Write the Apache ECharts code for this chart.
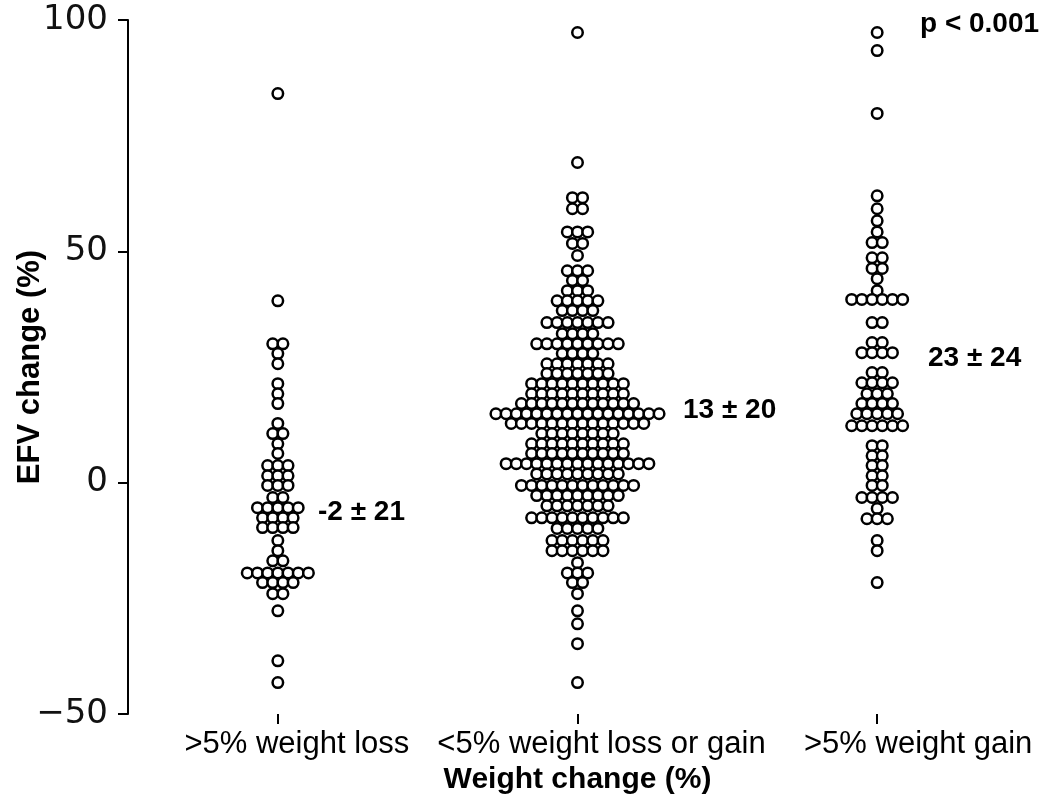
<!DOCTYPE html>
<html>
<head>
<meta charset="utf-8">
<script src="https://cdn.jsdelivr.net/npm/echarts@6/dist/echarts.min.js"></script>
<style>html,body{margin:0;padding:0;background:#fff}#c{width:1050px;height:803px}</style>
</head>
<body>
<div id="c"></div>
<script>
// Categories and tick labels
const categories = ['>5% weight loss', '<5% weight loss or gain', '>5% weight gain'];
const yTicks = [-50, 0, 50, 100];

// Each row of the dot plot: [EFV change (%), number of patients in that bin]
const lossRows = [
  [84.1,1],[39.3,1],[30.0,2],[27.9,1],[25.7,1],[21.4,1],[19.2,1],[17.1,1],
  [12.8,1],[10.6,2],[8.4,1],[6.3,1],[3.7,3],[1.5,3],[-0.6,3],[-3.2,2],
  [-5.4,5],[-7.6,4],[-9.7,4],[-12.5,1],[-14.7,1],[-16.9,2],[-19.5,7],
  [-21.6,4],[-24.0,2],[-27.7,1],[-38.5,1],[-43.2,1]
];
const stableRows = [
  [97.3,1],[69.2,1],[61.6,2],[59.2,2],[54.2,3],[51.7,2],[49.1,1],[45.8,3],
  [43.7,2],[41.5,3],[39.3,5],[37.2,4],[34.6,7],[32.2,4],[30.0,9],[27.9,4],
  [25.7,7],[23.6,7],[21.4,10],[19.2,10],[17.1,12],[14.9,17],[12.8,14],
  [10.6,8],[8.4,10],[6.3,10],[4.1,15],[1.9,9],[-0.6,12],[-2.8,9],[-5.0,7],
  [-7.6,10],[-9.9,5],[-12.5,6],[-14.7,6],[-17.3,1],[-19.5,3],[-21.6,2],
  [-24.0,1],[-27.7,1],[-30.5,1],[-34.8,1],[-43.2,1]
];
const gainRows = [
  [97.3,1],[93.4,1],[79.8,1],[62.0,1],[59.2,1],[56.6,1],[54.2,1],[51.9,2],
  [48.6,2],[46.3,2],[44.1,1],[41.5,1],[39.6,6],[34.6,2],[30.3,2],[28.1,4],
  [23.8,2],[21.6,4],[19.2,3],[17.1,4],[14.9,5],[12.3,6],[8.0,2],[5.8,2],
  [3.7,2],[1.5,2],[-0.6,2],[-3.2,4],[-5.6,1],[-7.8,3],[-12.5,1],[-14.7,1],
  [-21.6,1]
];
const groupRows = [lossRows, stableRows, gainRows];
const summaryLabels = ['-2 \u00b1 21', '13 \u00b1 20', '23 \u00b1 24'];
const pLabel = 'p < 0.001';

const W = 1050, H = 803;
const gridLeft = 128, gridRight = 23, gridTop = 20, gridBottom = 89;
const pxPerCat = (W - gridLeft - gridRight) / categories.length;
const dotSpacingPx = 10.2;
const step = dotSpacingPx / pxPerCat;

function expand(rows, ci) {
  const pts = [];
  rows.forEach(([v, n]) => {
    for (let j = 0; j < n; j++) pts.push([ci + 1 + (j - (n - 1) / 2) * step, v]);
  });
  return pts;
}

const chart = echarts.init(document.getElementById('c'), null, {renderer: 'canvas'});
const tickFont = 'DejaVu Sans';
const mainFont = 'Liberation Sans, Arial, sans-serif';
const labelShift = [38, 48, 82];

chart.setOption({
  animation: false,
  backgroundColor: '#ffffff',
  grid: {left: gridLeft, right: gridRight, top: gridTop, bottom: gridBottom, containLabel: false, outerBoundsMode: 'none'},
  xAxis: [
    {
      type: 'category',
      data: categories.map((c, i) => ({value: c, textStyle: {padding: [0, 0, 0, labelShift[i]]}})),
      boundaryGap: true,
      name: 'Weight change (%)',
      nameLocation: 'middle',
      nameGap: 40,
      nameTextStyle: {fontFamily: mainFont, fontWeight: 'bold', fontSize: 30, color: '#000'},
      axisLine: {show: false, onZero: false},
      axisTick: {show: true, alignWithLabel: true, length: 10, lineStyle: {color: '#000', width: 2}},
      axisLabel: {fontFamily: mainFont, fontSize: 31, color: '#000', margin: 15, interval: 0},
      splitLine: {show: false}
    },
    {
      type: 'value', min: 0.5, max: 3.5, show: false, splitLine: {show: false}
    }
  ],
  yAxis: {
    type: 'value',
    min: -50, max: 100, interval: 50,
    name: 'EFV change (%)',
    nameLocation: 'middle',
    nameGap: 82,
    nameMoveOverlap: false,
    nameRotate: 90,
    nameTextStyle: {fontFamily: mainFont, fontWeight: 'bold', fontSize: 31, color: '#000'},
    axisLine: {show: true, lineStyle: {color: '#000', width: 2}},
    axisTick: {show: true, length: 10, lineStyle: {color: '#000', width: 2}},
    axisLabel: {fontFamily: tickFont, fontSize: 34, color: '#111', margin: 20,
      formatter: v => yTicks.includes(v) ? (v < 0 ? '\u2212' + Math.abs(v) : String(v)) : ''},
    splitLine: {show: false}
  },
  series: groupRows.map((rows, ci) => ({
    type: 'scatter',
    xAxisIndex: 1,
    data: expand(rows, ci),
    symbol: 'circle',
    symbolSize: 10.5,
    itemStyle: {color: '#ffffff', borderColor: '#000', borderWidth: 2.5, opacity: 1},
    emphasis: {disabled: true},
    z: 3
  })),
  graphic: [
    {type: 'text', left: 920, top: 10, style: {text: pLabel, font: 'bold 28px ' + mainFont, fill: '#000'}},
    {type: 'text', left: 928, top: 344, style: {text: summaryLabels[2], font: 'bold 28px ' + mainFont, fill: '#000'}},
    {type: 'text', left: 683, top: 396, style: {text: summaryLabels[1], font: 'bold 28px ' + mainFont, fill: '#000'}},
    {type: 'text', left: 318, top: 498, style: {text: summaryLabels[0], font: 'bold 28px ' + mainFont, fill: '#000'}}
  ]
});
</script>
</body>
</html>
